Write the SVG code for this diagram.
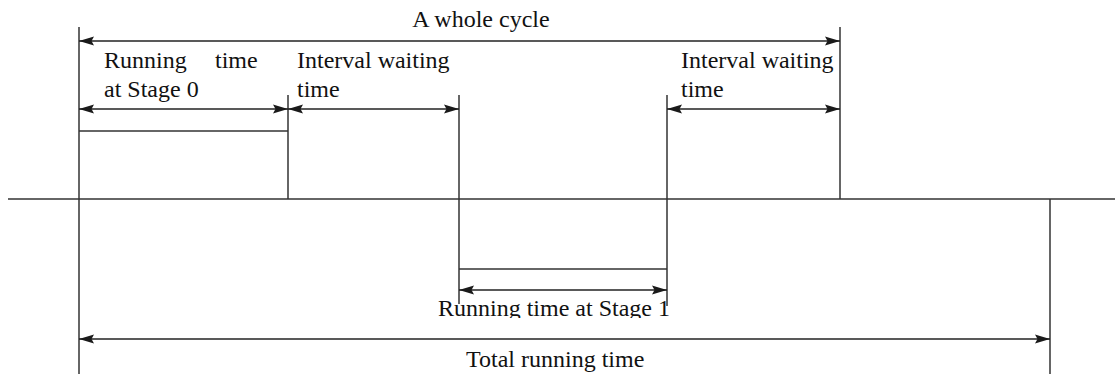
<svg xmlns="http://www.w3.org/2000/svg" width="1115" height="374" viewBox="0 0 1115 374">
<style>
.ln{stroke:#333;stroke-width:1.5;fill:none}
.ar{stroke:#222;stroke-width:1.5;fill:none;marker-start:url(#ah);marker-end:url(#ah)}
.t{font-family:"Liberation Serif","Times New Roman",serif;font-size:24px;fill:#111}
</style>
<defs>
<marker id="ah" viewBox="0 0 15 10" refX="15" refY="5" markerWidth="15" markerHeight="10" markerUnits="userSpaceOnUse" orient="auto-start-reverse">
<path d="M0,0.5 L15,5 L0,9.5 L2.5,5 Z" fill="#1a1a1a"/>
</marker>
<clipPath id="cl"><rect x="0" y="0" width="1115" height="318"/></clipPath>
</defs>
<g id="axes">
<line class="ln" x1="8" y1="199" x2="1115" y2="199"/>
<line class="ln" x1="79" y1="27" x2="79" y2="374"/>
<line class="ln" x1="840" y1="27" x2="840" y2="199"/>
<line class="ln" x1="288" y1="95" x2="288" y2="199"/>
<line class="ln" x1="459" y1="95" x2="459" y2="304"/>
<line class="ln" x1="667" y1="95" x2="667" y2="306"/>
<line class="ln" x1="1050" y1="199" x2="1050" y2="374"/>
<line class="ln" x1="79" y1="131" x2="288" y2="131"/>
<line class="ln" x1="459" y1="269" x2="667" y2="269"/>
</g>
<g id="connectors">
<line class="ar" x1="79" y1="41" x2="840" y2="41"/>
<line class="ar" x1="79" y1="109" x2="288" y2="109"/>
<line class="ar" x1="288" y1="109" x2="459" y2="109"/>
<line class="ar" x1="667" y1="109" x2="840" y2="109"/>
<line class="ar" x1="459" y1="290" x2="667" y2="290"/>
<line class="ar" x1="79" y1="339" x2="1050" y2="339"/>
</g>
<g id="label-cycle"><text class="t" x="481" y="27" text-anchor="middle">A whole cycle</text></g>
<g id="label-stage0">
<text class="t" x="104" y="68">Running</text>
<text class="t" x="215" y="68">time</text>
<text class="t" x="104" y="97">at Stage 0</text>
</g>
<g id="label-wait1">
<text class="t" x="297" y="68">Interval waiting</text>
<text class="t" x="297" y="97">time</text>
</g>
<g id="label-wait2">
<text class="t" x="681" y="68">Interval waiting</text>
<text class="t" x="681" y="97">time</text>
</g>
<g id="label-stage1"><text class="t" x="438" y="316" clip-path="url(#cl)">Running time at Stage 1</text></g>
<g id="label-total"><text class="t" x="466" y="367">Total running time</text></g>
</svg>
